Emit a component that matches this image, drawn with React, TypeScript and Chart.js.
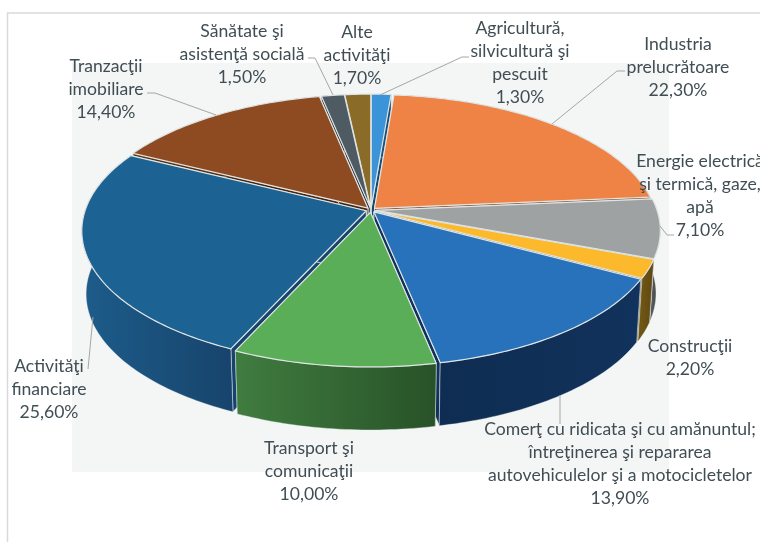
import React, { useEffect, useRef } from "react";
import { Chart, registerables } from "chart.js";

Chart.register(...registerables);

const categories: string[][] = [
  ["Agricultură,", "silvicultură şi", "pescuit"],
  ["Industria", "prelucrătoare"],
  ["Energie electrică", "şi termică, gaze,", "apă"],
  ["Construcţii"],
  ["Comerţ cu ridicata şi cu amănuntul;", "întreţinerea şi repararea", "autovehiculelor şi a motocicletelor"],
  ["Transport şi", "comunicaţii"],
  ["Activităţi", "financiare"],
  ["Tranzacţii", "imobiliare"],
  ["Sănătate şi", "asistenţă socială"],
  ["Alte", "activităţi"],
];
const values = [1.3, 22.3, 7.1, 2.2, 13.9, 10.0, 25.6, 14.4, 1.5, 1.7];

const topColors = ["#3b93d8", "#ee8345", "#9fa2a3", "#fdb92c", "#2872bb", "#5bae58", "#1c6394", "#8e4a20", "#4f5b63", "#8a6b28"];
const wallLight = ["#1f5c8c", "#a3562a", "#55585a", "#6e5515", "#0f2d52", "#407c40", "#1d5c8b", "#5f3113", "#30383d", "#5a4517"];
const wallDark = ["#174a72", "#7d4420", "#36393b", "#5e4812", "#11325c", "#285228", "#17446c", "#4a2610", "#262c30", "#473612"];
const sliceOffsets = [5, 5, 5, 5, 5, 5, 5, 5, 5, 5];

// centre x, centre y of first line
const labelAnchors: [number, number][] = [
  [520, 28], [678, 44], [700, 161], [690, 346], [620, 429],
  [309, 448], [49, 366], [106, 66], [242, 31], [357, 32],
];
const leaderLines: [number, number][][] = [
  [[380, 95], [462, 57], [469, 57]],
  [[552, 124], [617, 71], [625, 71]],
  [[660, 226], [667, 235], [674, 235]],
  [],
  [[560, 395], [560, 424]],
  [],
  [[93, 317], [88, 369]],
  [[216, 115], [155, 93], [147, 93]],
  [[333, 95], [315, 58], [308, 58]],
  [],
];

const RX = 281;
const RY = 131;
const PERSP = 0.148;
const DEPTH = 63;
const BOTTOM_SCALE = 0.985;
const LINE_H = 23;
const fmt = (v: number) => v.toFixed(2).replace(".", ",") + "%";

const pie3d = {
  id: "pie3d",
  beforeDraw(chart: any) {
    const { ctx, width, height } = chart;
    ctx.save();
    ctx.fillStyle = "#ffffff";
    ctx.fillRect(0, 0, width, height);
    ctx.strokeStyle = "#d9d9d9";
    ctx.lineWidth = 1.5;
    ctx.beginPath();
    ctx.moveTo(width + 2, 13);
    ctx.lineTo(7.5, 13);
    ctx.lineTo(7.5, height + 2);
    ctx.stroke();
    ctx.fillStyle = "#f4f5f5";
    ctx.fillRect(72, 63, 597, 409);
    ctx.restore();
  },
  beforeDatasetsDraw(chart: any) {
    const { ctx } = chart;
    const arcs = chart.getDatasetMeta(0).data as any[];
    const proj = (cx: number, cy: number, u: number, v: number, low: boolean): [number, number] => {
      const w = 1 - PERSP * v;
      let x = (RX * u) / w;
      const y = (RY * v) / w;
      if (low) x *= BOTTOM_SCALE;
      return [cx + x, cy + y + (low ? DEPTH : 0)];
    };
    const slices = arcs.map((el, i) => {
      const a0 = el.startAngle;
      const a1 = el.endAngle;
      const mid = (a0 + a1) / 2;
      const off = (el.options.offset || 0) / RX;
      const ou = Math.cos(mid) * off;
      const ov = Math.sin(mid) * off;
      const n = Math.max(2, Math.ceil(((a1 - a0) * 180) / Math.PI));
      const pts: [number, number][] = [];
      for (let k = 0; k <= n; k++) {
        const a = a0 + ((a1 - a0) * k) / n;
        pts.push([ou + Math.cos(a), ov + Math.sin(a)]);
      }
      return { i, el, mid, ou, ov, pts };
    });
    const poly = (list: [number, number][]) => {
      ctx.beginPath();
      list.forEach((p, k) => (k ? ctx.lineTo(p[0], p[1]) : ctx.moveTo(p[0], p[1])));
      ctx.closePath();
    };
    ctx.save();
    ctx.lineJoin = "round";
    const order = [...slices].sort((a, b) => Math.sin(a.mid) - Math.sin(b.mid));
    for (const s of order) {
      const { el, ou, ov, pts, i } = s;
      const cx = el.x;
      const cy = el.y;
      const topArc = pts.map((p) => proj(cx, cy, p[0], p[1], false));
      const lowArc = pts.map((p) => proj(cx, cy, p[0], p[1], true));
      const aT = proj(cx, cy, ou, ov, false);
      const aL = proj(cx, cy, ou, ov, true);
      ctx.fillStyle = wallDark[i];
      ctx.strokeStyle = "rgba(235,240,240,0.8)";
      ctx.lineWidth = 1;
      poly([aT, topArc[0], lowArc[0], aL]);
      ctx.fill();
      ctx.stroke();
      poly([aT, topArc[topArc.length - 1], lowArc[lowArc.length - 1], aL]);
      ctx.fill();
      ctx.stroke();
      const xs = topArc.map((p) => p[0]);
      const minX = Math.min(...xs);
      const maxX = Math.max(...xs);
      const grad = ctx.createLinearGradient(minX, 0, maxX + 0.01, 0);
      grad.addColorStop(0, wallLight[i]);
      grad.addColorStop(1, wallDark[i]);
      ctx.fillStyle = grad;
      poly([...topArc, ...[...lowArc].reverse()]);
      ctx.fill();
      ctx.strokeStyle = "rgba(235,240,240,0.45)";
      ctx.lineWidth = 0.8;
      ctx.stroke();
    }
    for (const s of order) {
      const { el, ou, ov, pts, i } = s;
      const list: [number, number][] = [
        proj(el.x, el.y, ou, ov, false),
        ...pts.map((p) => proj(el.x, el.y, p[0], p[1], false)),
      ];
      ctx.fillStyle = topColors[i];
      ctx.strokeStyle = "#dfe4e4";
      ctx.lineWidth = 1.2;
      poly(list);
      ctx.fill();
      ctx.stroke();
    }
    ctx.restore();
    return false;
  },
  afterDraw(chart: any) {
    const { ctx } = chart;
    ctx.save();
    ctx.strokeStyle = "#a6a6a6";
    ctx.lineWidth = 1;
    for (const line of leaderLines) {
      if (!line.length) continue;
      ctx.beginPath();
      line.forEach((p, k) => (k ? ctx.lineTo(p[0], p[1]) : ctx.moveTo(p[0], p[1])));
      ctx.stroke();
    }
    ctx.fillStyle = "#404e54";
    ctx.font = "17.6px Lato";
    ctx.textAlign = "center";
    ctx.textBaseline = "middle";
    categories.forEach((lines, i) => {
      const [x, y] = labelAnchors[i];
      [...lines, fmt(values[i])].forEach((t, k) => ctx.fillText(t, x, y + k * LINE_H));
    });
    ctx.restore();
  },
};

export default function App() {
  const ref = useRef<HTMLCanvasElement | null>(null);
  useEffect(() => {
    const chart = new Chart(ref.current as HTMLCanvasElement, {
      type: "pie",
      data: {
        labels: categories.map((c) => c.join(" ")),
        datasets: [{ data: values, backgroundColor: topColors, offset: sliceOffsets, borderWidth: 0 }],
      },
      options: {
        responsive: false,
        animation: false,
        rotation: 0,
        layout: { padding: { left: 0, right: 18, top: 0, bottom: 122 } },
        plugins: { legend: { display: false }, tooltip: { enabled: false } },
      },
      plugins: [pie3d],
    } as any);
    return () => chart.destroy();
  }, []);
  return (
    <canvas
      ref={ref}
      width={760}
      height={542}
      style={{ position: "absolute", left: 0, top: 0, width: 760, height: 542, display: "block" }}
    />
  );
}
